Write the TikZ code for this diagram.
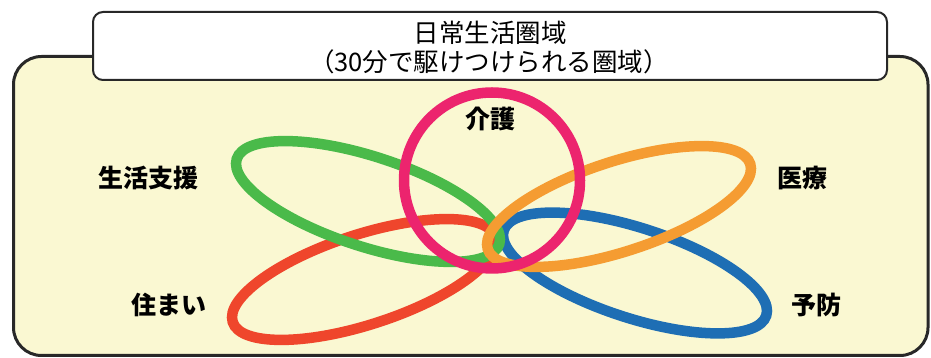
\documentclass[tikz,border=0pt]{standalone}
\usepackage{fontspec}
\setmainfont{Noto Sans CJK JP}
\definecolor{bgyellow}{RGB}{250,248,210}
\definecolor{edgegray}{RGB}{40,40,40}
\definecolor{ringgreen}{RGB}{74,186,74}
\definecolor{ringorange}{RGB}{245,156,50}
\definecolor{ringred}{RGB}{239,70,44}
\definecolor{ringblue}{RGB}{30,110,180}
\definecolor{ringpink}{RGB}{236,36,110}
\tikzset{
  ring/.style={line width=10.5pt},
  lbl/.style={font=\fontsize{25}{29}\selectfont\bfseries, inner sep=0pt},
  ttl/.style={font=\fontsize{25.5}{30}\selectfont, align=center, inner sep=0pt}
}
\begin{document}
\begin{tikzpicture}[x=1pt,y=1pt]
\useasboundingbox (0,0) rectangle (931,358);
% main area
\path[draw=edgegray, line width=3pt, fill=bgyellow, rounded corners=28pt]
  (13.5,2.5) rectangle (928,301.5);
% title box
\path[draw=edgegray, line width=2pt, fill=white, rounded corners=10pt]
  (93,278) rectangle (887,346);
\node[ttl] (t1) at (490,325) {日常生活圏域};
\node[ttl] (t2) at (489,296) {（30分で駆けつけられる圏域）};
% rings
\draw[ring, ringred] (364,78.5) ellipse[x radius=138, y radius=45, rotate=18];
\draw[ring, ringblue] (635,85) ellipse[x radius=138, y radius=45, rotate=-18];
\draw[ring, ringgreen] (368,156.5) ellipse[x radius=138, y radius=45, rotate=-18];
\draw[ring, ringorange] (619,151.5) ellipse[x radius=138, y radius=45, rotate=18];
\draw[ring, ringpink] (492,177.5) circle[radius=88];
% labels
\node[lbl] (kaigo) at (490,239) {介護};
\node[lbl] (seikatsu) at (148,180) {生活支援};
\node[lbl] (iryo) at (802,180) {医療};
\node[lbl] (sumai) at (168.5,53) {住まい};
\node[lbl] (yobo) at (816.5,53) {予防};
\end{tikzpicture}
\end{document}
